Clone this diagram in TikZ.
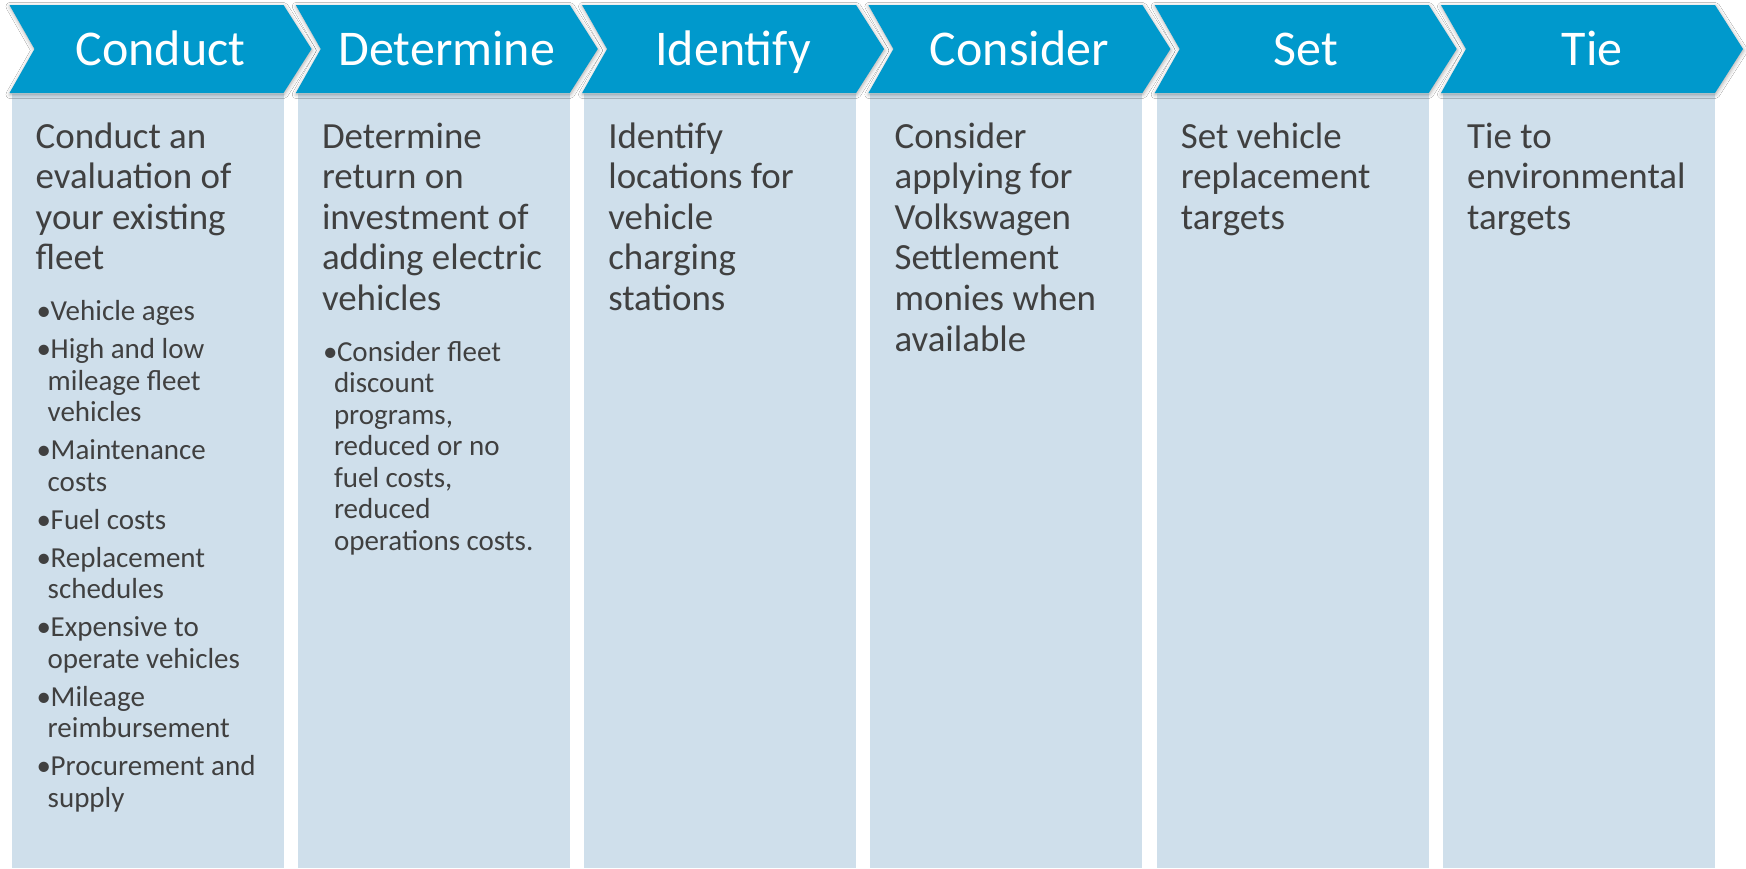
\documentclass[tikz,border=0pt]{standalone}
\usepackage{fontspec}
\setmainfont{Carlito}
\usetikzlibrary{shadows.blur}

\definecolor{chevblue}{HTML}{0099CC}
\definecolor{panelblue}{HTML}{CFDFEB}
\definecolor{bodytext}{HTML}{404040}

% paragraph under each step heading
\newcommand\mainlines[1]{\parbox[t]{262pt}{\raggedright\fontsize{36.9}{40.6}\selectfont #1}}
% bullet list with hanging indent
\newcommand\bulletlist[1]{\parbox[t]{262pt}{\raggedright\fontsize{29}{31.5}\selectfont\parskip=6.5pt\lineskiplimit=-50pt #1}}
\newcommand\bitem[1]{\par\hangindent=12pt\hangafter=1\noindent\makebox[15pt][l]{\hspace{1pt}•}#1}
\newcommand\brk{\hfil\break}

\tikzset{
  panel/.style={fill=panelblue, draw=none},
  chevron/.style={fill=chevblue, draw=none,
    blur shadow={shadow xshift=0.5pt, shadow yshift=-1.5pt, shadow blur radius=4pt, shadow opacity=35}},
  headtext/.style={anchor=base, inner sep=0, text=white, font=\fontsize{50}{60}\selectfont},
  maintext/.style={anchor=base west, inner sep=0, text=bodytext},
  listtext/.style={anchor=base west, inner sep=0, text=bodytext},
}

\begin{document}
\begin{tikzpicture}[x=1pt, y=-1pt]
  \useasboundingbox (0,0) rectangle (1746,868);
  \fill[white] (0,0) rectangle (1746,868);

  % light panels below the arrows
  \foreach \i in {0,...,5}{
    \pgfmathsetmacro\L{11.5+286.3*\i}
    \pgfmathsetmacro\R{\L+272}
    \fill[panel] (\L,94) rectangle (\R,868);
  }
  % chevron headers
  \foreach \i in {0,...,5}{
    \pgfmathsetmacro\L{11.5+286.3*\i}
    \pgfmathsetmacro\R{\L+272}
    \path[chevron] (\L-2,5) -- (\R,5) -- (\R+28,49) -- (\R,93) -- (\L-2,93) -- (\L+23,49) -- cycle;
  }

  % headings
  \node[headtext] (h1) at (160.5,65) {Conduct};
  \node[headtext] (h2) at (446.8,65) {Determine};
  \node[headtext] (h3) at (733.1,65) {Identify};
  \node[headtext] (h4) at (1019.4,65) {Consider};
  \node[headtext] (h5) at (1305.7,65) {Set};
  \node[headtext] (h6) at (1592.0,65) {Tie};

  % step descriptions
  \node[maintext] (t1) at (35.5,148) {\mainlines{Conduct an\\evaluation of\\your existing\\fleet}};
  \node[maintext] (t2) at (321.8,148) {\mainlines{Determine\\return on\\investment of\\adding electric\\vehicles}};
  \node[maintext] (t3) at (608.1,148) {\mainlines{Identify\\locations for\\vehicle\\charging\\stations}};
  \node[maintext] (t4) at (894.4,148) {\mainlines{Consider\\applying for\\Volkswagen\\Settlement\\monies when\\available}};
  \node[maintext] (t5) at (1180.7,148) {\mainlines{Set vehicle\\replacement\\targets}};
  \node[maintext] (t6) at (1467.0,148) {\mainlines{Tie to\\environmental\\targets}};

  % bullet details
  \node[listtext] (l1) at (35.5,320.8) {\bulletlist{%
    \bitem{Vehicle ages}
    \bitem{High and low\brk mileage fleet\brk vehicles}
    \bitem{Maintenance\brk costs}
    \bitem{Fuel costs}
    \bitem{Replacement\brk schedules}
    \bitem{Expensive to\brk operate vehicles}
    \bitem{Mileage\brk reimbursement}
    \bitem{Procurement and\brk supply}}};
  \node[listtext] (l2) at (321.8,361.4) {\bulletlist{%
    \bitem{Consider fleet\brk discount\brk programs,\brk reduced or no\brk fuel costs,\brk reduced\brk operations costs.}}};
\end{tikzpicture}
\end{document}
